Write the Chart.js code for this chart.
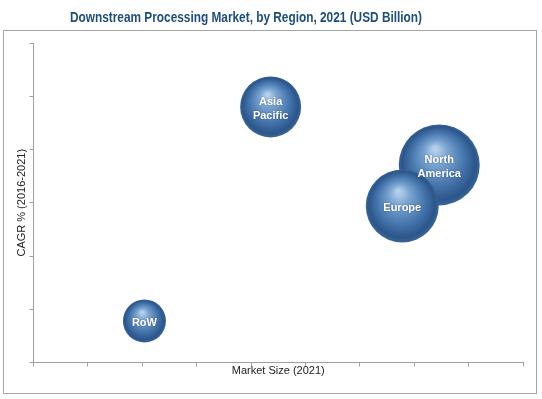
<!DOCTYPE html>
<html>
<head>
<meta charset="utf-8">
<script src="https://cdn.jsdelivr.net/npm/chart.js@4/dist/chart.umd.min.js"></script>
<style>
  html, body { margin: 0; padding: 0; background: #fff; }
  #chart { display: block; }
</style>
</head>
<body>
<canvas id="chart" width="542" height="399"></canvas>
<script>
// Chart data
const regions = ['RoW', 'Asia Pacific', 'North America', 'Europe'];
const marketSize = [2.04, 4.36, 7.46, 6.78];     // x (no labels)
const cagr = [0.78, 4.80, 3.71, 2.94];           // y (no labels)
const bubbleSize = [21.5, 30.5, 40.5, 36.5];     // bubble radius

const chartTitle = 'Downstream Processing Market, by Region, 2021 (USD Billion)';
const xTitle = 'Market Size (2021)';
const yTitle = 'CAGR % (2016-2021)';

// Shaded sphere look for each bubble
function sphereFill(context) {
    const chart = context.chart;
    const raw = context.raw;
    if (!raw || !chart.scales.x) return '#3f6fa6';
    const cx = chart.scales.x.getPixelForValue(raw.x);
    const cy = chart.scales.y.getPixelForValue(raw.y);
    const r = raw.r;
    if (!isFinite(cx) || !isFinite(cy)) return '#3f6fa6';
    const g = chart.ctx.createRadialGradient(cx - r * 0.1, cy - r * 0.4, r * 0.05, cx, cy, r);
    g.addColorStop(0, '#b4cfea');
    g.addColorStop(0.25, '#7aa4d1');
    g.addColorStop(0.62, '#4777ae');
    g.addColorStop(0.9, '#2c568b');
    g.addColorStop(1, '#3a6597');
    return g;
}

// Frame around plot + title above it
const framePlugin = {
    id: 'frame',
    beforeDraw(chart) {
        const ctx = chart.ctx;
        ctx.save();
        ctx.strokeStyle = '#a6a6a6';
        ctx.lineWidth = 1;
        ctx.strokeRect(3.5, 30.5, 533, 363);
        ctx.fillStyle = '#1f4e79';
        ctx.font = 'bold 14px "Liberation Sans", Arial, sans-serif';
        ctx.textAlign = 'center';
        ctx.textBaseline = 'middle';
        // squeeze to the condensed width of the original title
        const w = ctx.measureText(chartTitle).width;
        ctx.translate(246, 18.5);
        ctx.scale(352 / w, 1);
        ctx.fillText(chartTitle, 0, 0);
        ctx.restore();
    }
};

// White labels in the middle of each bubble
const bubbleLabels = {
    id: 'bubbleLabels',
    afterDatasetsDraw(chart) {
        const ctx = chart.ctx;
        const meta = chart.getDatasetMeta(0);
        ctx.save();
        ctx.fillStyle = '#ffffff';
        ctx.font = 'bold 11px "Liberation Sans", Arial, sans-serif';
        ctx.textAlign = 'center';
        ctx.textBaseline = 'middle';
        ctx.shadowColor = 'rgba(0,0,0,0.35)';
        ctx.shadowBlur = 2;
        meta.data.forEach((el, i) => {
            const lines = regions[i].split(' ');
            const lh = 14;
            const y0 = el.y + 2 - (lines.length - 1) * lh / 2;
            lines.forEach((line, j) => ctx.fillText(line, el.x, y0 + j * lh));
        });
        ctx.restore();
    }
};

const ctx = document.getElementById('chart').getContext('2d');
new Chart(ctx, {
    type: 'bubble',
    data: {
        datasets: [{
            label: 'Regions',
            data: regions.map((name, i) => ({ x: marketSize[i], y: cagr[i], r: bubbleSize[i] })),
            backgroundColor: sphereFill,
            borderWidth: 0,
            hoverBorderWidth: 0,
            clip: false
        }]
    },
    options: {
        responsive: false,
        animation: false,
        events: [],
        layout: { autoPadding: false, padding: { top: 43, right: 19, left: 0, bottom: 0 } },
        plugins: {
            legend: { display: false },
            tooltip: { enabled: false }
        },
        scales: {
            x: {
                type: 'linear',
                min: 0,
                max: 9,
                ticks: { display: false, stepSize: 1 },
                grid: { drawOnChartArea: false, drawTicks: true, tickLength: 4, color: '#a0a0a0' },
                border: { color: '#a0a0a0' },
                title: {
                    display: true,
                    text: xTitle,
                    color: '#222',
                    font: { family: '"Liberation Sans", Arial, sans-serif', size: 11 },
                    padding: { top: 0, bottom: 21 }
                },
                afterFit: s => { s.height = 36.5; }
            },
            y: {
                type: 'linear',
                min: 0,
                max: 6,
                ticks: { display: false, stepSize: 1 },
                grid: { drawOnChartArea: false, drawTicks: true, tickLength: 4, color: '#a0a0a0' },
                border: { color: '#a0a0a0' },
                title: {
                    display: true,
                    text: yTitle,
                    color: '#222',
                    font: { family: '"Liberation Sans", Arial, sans-serif', size: 11 },
                    padding: { top: 15.5, bottom: 0 }
                },
                afterFit: s => { s.width = 33.5; }
            }
        }
    },
    plugins: [framePlugin, bubbleLabels]
});
</script>
</body>
</html>
